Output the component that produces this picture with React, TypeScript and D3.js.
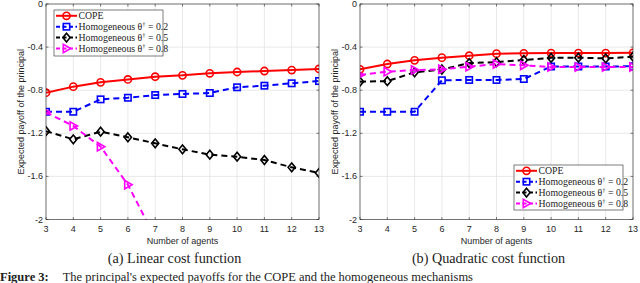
import React from 'react';
import * as d3 from 'd3';

const agents = [3, 4, 5, 6, 7, 8, 9, 10, 11, 12, 13];
const yTicks = [0, -0.4, -0.8, -1.2, -1.6, -2];

// (a) linear cost
const linCope = [-0.823, -0.767, -0.727, -0.700, -0.675, -0.662, -0.643, -0.631, -0.622, -0.613, -0.603];
const linHom2 = [-1.0, -1.0, -0.885, -0.870, -0.845, -0.835, -0.826, -0.773, -0.758, -0.736, -0.715];
const linHom5 = [-1.180, -1.256, -1.185, -1.237, -1.293, -1.349, -1.398, -1.417, -1.448, -1.516, -1.568];
const linHom8 = [-1.005, -1.132, -1.324, -1.677, -2.17];

// (b) quadratic cost
const quadCope = [-0.606, -0.557, -0.523, -0.498, -0.480, -0.461, -0.458, -0.455, -0.455, -0.455, -0.453];
const quadHom2 = [-1.0, -1.0, -1.0, -0.708, -0.705, -0.705, -0.696, -0.580, -0.580, -0.580, -0.578];
const quadHom5 = [-0.721, -0.716, -0.634, -0.608, -0.548, -0.540, -0.520, -0.500, -0.498, -0.505, -0.489];
const quadHom8 = [-0.659, -0.628, -0.613, -0.606, -0.582, -0.557, -0.569, -0.585, -0.585, -0.585, -0.585];

const legendLabels = ['COPE', 'Homogeneous θ', 'Homogeneous θ', 'Homogeneous θ'];
const legendValues = ['', '0.2', '0.5', '0.8'];

type Series = { values: number[]; color: string; dashed: boolean; marker: string };

const Marker = ({ type, x, y, color }: { type: string; x: number; y: number; color: string }) => {
  const sw = 1.6;
  if (type === 'circle') return <circle cx={x} cy={y} r={3.6} fill="none" stroke={color} strokeWidth={sw} />;
  if (type === 'square') return <rect x={x - 3.2} y={y - 3.2} width={6.4} height={6.4} fill="none" stroke={color} strokeWidth={sw} />;
  if (type === 'diamond')
    return <path d={`M${x},${y - 4.4}L${x + 3.6},${y}L${x},${y + 4.4}L${x - 3.6},${y}Z`} fill="none" stroke={color} strokeWidth={sw} />;
  return <path d={`M${x + 4.2},${y}L${x - 3.2},${y - 4.2}L${x - 3.2},${y + 4.2}Z`} fill="none" stroke={color} strokeWidth={sw} />;
};

const Panel = ({ id, left, right, series, legend, caption }: {
  id: string; left: number; right: number; series: Series[];
  legend: { x: number; y: number; w: number; h: number }; caption: string;
}) => {
  const top = 4, bottom = 219.5;
  const x = d3.scaleLinear().domain([3, 13]).range([left, right]);
  const y = d3.scaleLinear().domain([-2, 0]).range([bottom, top]);
  const line = d3.line<number>().x((_, i) => x(agents[i])).y(d => y(d));
  const tick = '#262626';
  const cx = (left + right) / 2;
  return (
    <g>
      <defs>
        <clipPath id={`clip-${id}`}>
          <rect x={left} y={top} width={right - left} height={bottom - top} />
        </clipPath>
      </defs>
      <rect x={left} y={top} width={right - left} height={bottom - top} fill="#fff" />
      {agents.map(a => (
        <line key={'gx' + a} x1={x(a)} x2={x(a)} y1={top} y2={bottom} stroke="#e3e3e3" strokeWidth={0.8} />
      ))}
      {yTicks.map(t => (
        <line key={'gy' + t} x1={left} x2={right} y1={y(t)} y2={y(t)} stroke="#e3e3e3" strokeWidth={0.8} />
      ))}
      <g clipPath={`url(#clip-${id})`}>
        {series.map((s, k) => (
          <g key={k}>
            <path d={line(s.values) || ''} fill="none" stroke={s.color} strokeWidth={2}
              strokeDasharray={s.dashed ? '6,4' : undefined} />
            {s.values.map((v, i) => <Marker key={i} type={s.marker} x={x(agents[i])} y={y(v)} color={s.color} />)}
          </g>
        ))}
      </g>
      <rect x={left} y={top} width={right - left} height={bottom - top} fill="none" stroke={tick} strokeWidth={0.6} />
      {agents.map(a => (
        <g key={'tx' + a}>
          <line x1={x(a)} x2={x(a)} y1={bottom} y2={bottom - 2.5} stroke={tick} strokeWidth={0.6} />
          <line x1={x(a)} x2={x(a)} y1={top} y2={top + 2.5} stroke={tick} strokeWidth={0.6} />
          <text x={x(a)} y={232} textAnchor="middle" fontSize={9} fill={tick} fontFamily="Liberation Sans, Arial, sans-serif">{a}</text>
        </g>
      ))}
      {yTicks.map(t => (
        <g key={'ty' + t}>
          <line x1={left} x2={left + 2.5} y1={y(t)} y2={y(t)} stroke={tick} strokeWidth={0.6} />
          <line x1={right} x2={right - 2.5} y1={y(t)} y2={y(t)} stroke={tick} strokeWidth={0.6} />
          <text x={left - 3} y={y(t) + 3} textAnchor="end" fontSize={9} fill={tick} fontFamily="Liberation Sans, Arial, sans-serif">{t === 0 ? '0' : String(t)}</text>
        </g>
      ))}
      <text x={cx} y={243.5} textAnchor="middle" fontSize={9} fill={tick} fontFamily="Liberation Sans, Arial, sans-serif">Number of agents</text>
      <text transform={`translate(${left - 22},${(top + bottom) / 2}) rotate(-90)`} textAnchor="middle" fontSize={9} fill={tick}
        fontFamily="Liberation Sans, Arial, sans-serif">Expected payoff of the principal</text>
      <text x={cx - 8} y={262.5} textAnchor="middle" fontSize={14.2} fill="#222" fontFamily="Liberation Serif, Times New Roman, serif">{caption}</text>
      <rect x={legend.x} y={legend.y} width={legend.w} height={legend.h} fill="#fff" stroke={tick} strokeWidth={0.6} />
      {series.map((s, k) => {
        const ly = legend.y + 5.8 + k * 10.9;
        const lx = legend.x + 2;
        return (
          <g key={'lg' + k}>
            <line x1={lx} x2={lx + 21} y1={ly} y2={ly} stroke={s.color} strokeWidth={2} strokeDasharray={s.dashed ? '4,2.5' : undefined} />
            <Marker type={s.marker} x={lx + 10.5} y={ly} color={s.color} />
            <text x={lx + 22.5} y={ly + 3.2} fontSize={9.8} fill="#222" fontFamily="Liberation Serif, Times New Roman, serif">
              {legendLabels[k]}
              {k > 0 && <tspan dy={-3.5} fontSize={6.5}>†</tspan>}
              {k > 0 && <tspan dy={3.5}>{' = ' + legendValues[k]}</tspan>}
            </text>
          </g>
        );
      })}
    </g>
  );
};

const App = () => {
  const mk = (vals: number[][]): Series[] => [
    { values: vals[0], color: '#ff0000', dashed: false, marker: 'circle' },
    { values: vals[1], color: '#0000ff', dashed: true, marker: 'square' },
    { values: vals[2], color: '#000000', dashed: true, marker: 'diamond' },
    { values: vals[3], color: '#ff00ff', dashed: true, marker: 'triangle' },
  ];
  return (
    <svg width={640} height={283} style={{ position: 'absolute', left: 0, top: 0, background: '#fff' }}>
      <Panel id="a" left={46} right={319} series={mk([linCope, linHom2, linHom5, linHom8])}
        legend={{ x: 54, y: 10, w: 109, h: 46 }} caption="(a) Linear cost function" />
      <Panel id="b" left={360} right={633} series={mk([quadCope, quadHom2, quadHom5, quadHom8])}
        legend={{ x: 514, y: 165, w: 109, h: 45 }} caption="(b) Quadratic cost function" />
      <text x={0} y={280.5} fontSize={12.5} fill="#222" fontFamily="Liberation Serif, Times New Roman, serif">
        <tspan fontWeight="bold">Figure 3:</tspan>
        <tspan dx={14}>The principal's expected payoffs for the COPE and the homogeneous mechanisms</tspan>
      </text>
    </svg>
  );
};

export default App;
